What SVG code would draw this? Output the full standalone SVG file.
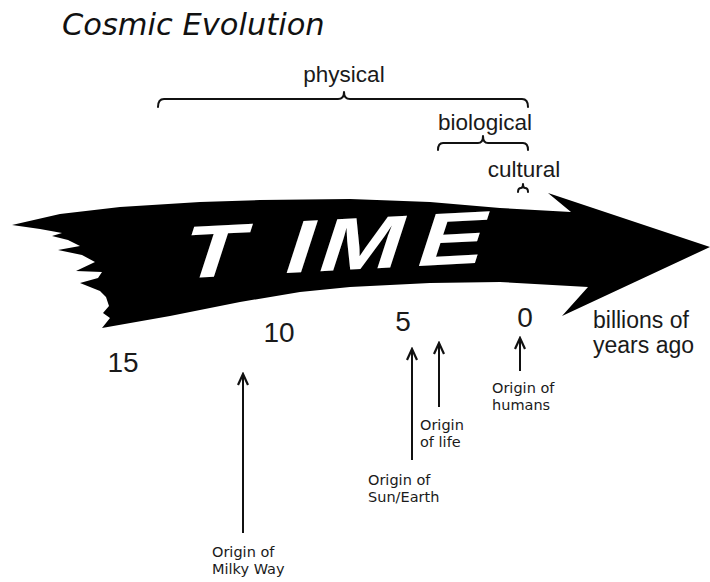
<svg xmlns="http://www.w3.org/2000/svg" width="710" height="582" viewBox="0 0 710 582">
<style>
.lbl{font-family:"Liberation Sans",Arial,sans-serif;fill:#1a1a1a}
.big{font-size:22.5px}
.num{font-size:28px}
.small{font-family:"DejaVu Sans",Verdana,sans-serif;font-size:14.5px;fill:#1a1a1a}
.br{fill:none;stroke:#111;stroke-width:2;stroke-linecap:round;stroke-linejoin:round}
.ar{fill:none;stroke:#111;stroke-width:2}
</style>
<defs>
<marker id="head" viewBox="0 0 14 12" refX="12" refY="6" markerWidth="14" markerHeight="12" markerUnits="userSpaceOnUse" orient="auto">
<path d="M1,1 L12,6 L1,11" fill="none" stroke="#111" stroke-width="2.2" stroke-linejoin="miter"/>
</marker>
</defs>
<rect width="710" height="582" fill="#fff"/>
<text id="title" x="62" y="35" style="font-family:'DejaVu Sans',Verdana,sans-serif;font-style:italic;font-size:30.5px;fill:#111">Cosmic Evolution</text>

<g id="time-arrow">
<path fill="#000" d="M12,225 L60,214 L120,207 L200,202 L260,200 L350,199 L430,202 L500,208 L571,212 L548,193 L710,247 L562,316 L588,287 L500,282 L430,283 L350,287 L300,292 L240,302 L170,316 L102,328 L110,318 L103,313 L109,306 L106,297 L100,291 L80,283 L98,278 L102,272 L76,271 L95,262 L82,255 L58,250 L80,246 L68,240 L52,236 L62,233 L40,229 Z"/>
<g transform="translate(152,280) rotate(-3) skewX(-21) scale(1.35,1)">
<text x="18 95 120 193" y="0" style="font-family:'Liberation Sans',Arial,sans-serif;font-weight:bold;font-size:74px;fill:#fff">TIME</text>
</g>
</g>

<g id="physical">
<text class="lbl big" x="344" y="82" text-anchor="middle">physical</text>
<path class="br" d="M158,107 Q158,99 164,99 L338,99 Q344,99 344,92 Q344,99 350,99 L522,99 Q528,99 528,107"/>
</g>
<g id="biological">
<text class="lbl big" x="485" y="130" text-anchor="middle">biological</text>
<path class="br" d="M438,150 Q438,143 443,143 L478,143 Q483,143 483,136 Q483,143 488,143 L523,143 Q528,143 528,150"/>
</g>
<g id="cultural">
<text class="lbl big" x="524" y="177" text-anchor="middle">cultural</text>
<path class="br" d="M518,192 Q518,188 521,188 Q523,188 523,184 Q523,188 525,188 Q528,188 528,192"/>
</g>

<g id="scale">
<text class="lbl num" x="123" y="372" text-anchor="middle">15</text>
<text class="lbl num" x="279" y="342" text-anchor="middle">10</text>
<text class="lbl num" x="403" y="331" text-anchor="middle">5</text>
<text class="lbl num" x="525" y="327" text-anchor="middle">0</text>
<text class="lbl" style="font-size:23px" x="593" y="328">billions of</text>
<text class="lbl" style="font-size:23px" x="593" y="353">years ago</text>
</g>

<g id="connectors">
<line class="ar" x1="243" y1="533" x2="243" y2="374" marker-end="url(#head)"/>
<line class="ar" x1="412" y1="460" x2="412" y2="349" marker-end="url(#head)"/>
<line class="ar" x1="439" y1="407" x2="439" y2="343" marker-end="url(#head)"/>
<line class="ar" x1="520" y1="371" x2="520" y2="338" marker-end="url(#head)"/>
</g>

<g id="milky-way">
<text class="small" x="212" y="557">Origin of</text>
<text class="small" x="212" y="574">Milky Way</text>
</g>
<g id="sun-earth">
<text class="small" x="368" y="485">Origin of</text>
<text class="small" x="368" y="502">Sun/Earth</text>
</g>
<g id="life">
<text class="small" x="420" y="430">Origin</text>
<text class="small" x="420" y="447">of life</text>
</g>
<g id="humans">
<text class="small" x="492" y="393">Origin of</text>
<text class="small" x="492" y="410">humans</text>
</g>
</svg>
